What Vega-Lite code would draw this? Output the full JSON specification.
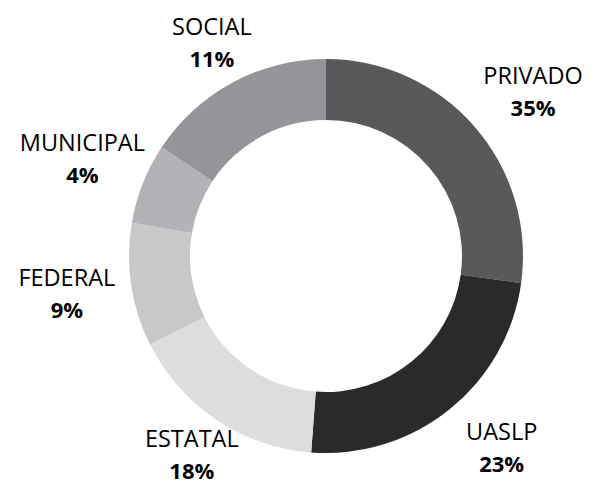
{
  "$schema": "https://vega.github.io/schema/vega-lite/v6.json",
  "width": 538,
  "height": 462,
  "autosize": "none",
  "padding": {"left": 57, "top": 25, "right": 0, "bottom": 0},
  "background": "white",
  "view": {"stroke": null},
  "data": {
    "values": [
      {"name": "PRIVADO", "pct": "35%", "share": 27.2, "idx": 1},
      {"name": "UASLP", "pct": "23%", "share": 24.0, "idx": 2},
      {"name": "ESTATAL", "pct": "18%", "share": 16.4, "idx": 3},
      {"name": "FEDERAL", "pct": "9%", "share": 10.1, "idx": 4},
      {"name": "MUNICIPAL", "pct": "4%", "share": 6.6, "idx": 5},
      {"name": "SOCIAL", "pct": "11%", "share": 15.7, "idx": 6}
    ]
  },
  "encoding": {
    "theta": {"field": "share", "type": "quantitative", "stack": true},
    "order": {"field": "idx", "type": "quantitative"}
  },
  "layer": [
    {
      "mark": {"type": "arc", "outerRadius": 197, "innerRadius": 136},
      "encoding": {
        "color": {
          "field": "name",
          "type": "nominal",
          "scale": {
            "domain": ["PRIVADO", "UASLP", "ESTATAL", "FEDERAL", "MUNICIPAL", "SOCIAL"],
            "range": ["#58595b", "#2a2a2a", "#dcddde", "#c7c8ca", "#b1b3b6", "#939598"]
          },
          "legend": null
        }
      }
    },
    {
      "mark": {"type": "text", "radius": 241, "dy": -16, "font": "Open Sans", "fontSize": 23.5, "color": "#000000"},
      "encoding": {
        "text": {"condition": {"test": "indexof(['ESTATAL','SOCIAL'], datum.name) >= 0", "field": "name"}, "value": ""}
      }
    },
    {
      "mark": {"type": "text", "radius": 241, "dy": 16, "font": "Open Sans", "fontSize": 22, "fontWeight": "bold", "color": "#000000"},
      "encoding": {
        "text": {"condition": {"test": "indexof(['ESTATAL','SOCIAL'], datum.name) >= 0", "field": "pct"}, "value": ""}
      }
    },
    {
      "mark": {"type": "text", "radius": 248, "dx": 20, "dy": -16, "font": "Open Sans", "fontSize": 23.5, "color": "#000000"},
      "encoding": {
        "text": {"condition": {"test": "indexof(['PRIVADO','UASLP'], datum.name) >= 0", "field": "name"}, "value": ""}
      }
    },
    {
      "mark": {"type": "text", "radius": 248, "dx": 20, "dy": 16, "font": "Open Sans", "fontSize": 22, "fontWeight": "bold", "color": "#000000"},
      "encoding": {
        "text": {"condition": {"test": "indexof(['PRIVADO','UASLP'], datum.name) >= 0", "field": "pct"}, "value": ""}
      }
    },
    {
      "mark": {"type": "text", "radius": 262, "dy": -16, "font": "Open Sans", "fontSize": 23.5, "color": "#000000"},
      "encoding": {
        "text": {"condition": {"test": "indexof(['FEDERAL','MUNICIPAL'], datum.name) >= 0", "field": "name"}, "value": ""}
      }
    },
    {
      "mark": {"type": "text", "radius": 262, "dy": 16, "font": "Open Sans", "fontSize": 22, "fontWeight": "bold", "color": "#000000"},
      "encoding": {
        "text": {"condition": {"test": "indexof(['FEDERAL','MUNICIPAL'], datum.name) >= 0", "field": "pct"}, "value": ""}
      }
    }
  ]
}
